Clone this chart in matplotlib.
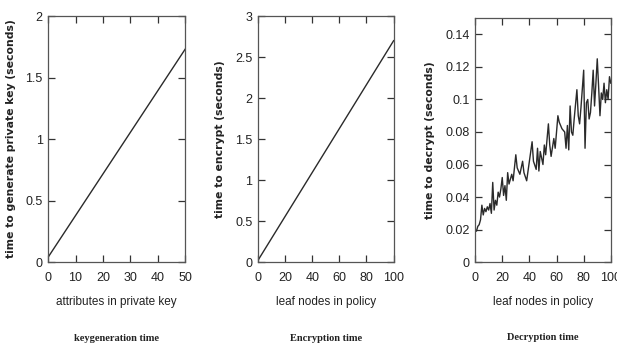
import numpy as np
import matplotlib
matplotlib.use("Agg")
import matplotlib.pyplot as plt

# keygeneration: attributes vs seconds
key_attrs = [0, 50]
key_time = [0.04, 1.73]

# encryption: leaf nodes vs seconds
enc_nodes = [0, 100]
enc_time = [0.02, 2.70]

# decryption (noisy)
dec_nodes = [0, 1, 2, 3, 4, 5, 6, 7, 8, 9, 10, 11, 12, 13, 14, 15, 16, 17, 18, 19,
             20, 21, 22, 23, 24, 25, 27, 28, 30, 31, 33, 35, 36, 38, 40, 42, 43, 45,
             46, 47, 48, 50, 51, 52, 54, 55, 56, 58, 59, 61, 62, 64, 66, 67, 68, 69,
             70, 71, 72, 73, 75, 76, 77, 78, 80, 81, 82, 83, 84, 85, 86, 87, 88, 89,
             90, 91, 92, 93, 94, 95, 96, 97, 98, 99, 100]
dec_time = [0.020, 0.019, 0.022, 0.023, 0.026, 0.035, 0.029, 0.033, 0.031, 0.034,
            0.032, 0.036, 0.030, 0.049, 0.032, 0.038, 0.035, 0.043, 0.040, 0.045,
            0.052, 0.041, 0.047, 0.038, 0.055, 0.048, 0.054, 0.050, 0.066, 0.058,
            0.054, 0.062, 0.055, 0.050, 0.062, 0.074, 0.062, 0.057, 0.070, 0.056,
            0.068, 0.060, 0.072, 0.066, 0.085, 0.072, 0.065, 0.076, 0.070, 0.090,
            0.086, 0.082, 0.080, 0.070, 0.084, 0.069, 0.096, 0.080, 0.078, 0.088,
            0.106, 0.090, 0.085, 0.095, 0.118, 0.070, 0.098, 0.100, 0.088, 0.092,
            0.104, 0.118, 0.096, 0.110, 0.125, 0.108, 0.090, 0.104, 0.100, 0.110,
            0.098, 0.106, 0.100, 0.114, 0.110]

narrow = ["Liberation Sans", "DejaVu Sans"]

fig = plt.figure(figsize=(6.17, 3.49), dpi=100)

panels = [
    dict(rect=[0.078, 0.249, 0.222, 0.705], x=key_attrs, y=key_time,
         xlim=(0, 50), xt=range(0, 51, 10), ylim=(0, 2), yt=[0, 0.5, 1, 1.5, 2],
         ytl=["0", "0.5", "1", "1.5", "2"],
         xlabel="attributes in private key",
         ylabel="time to generate private key (seconds)",
         caption="keygeneration time"),
    dict(rect=[0.418, 0.249, 0.220, 0.705], x=enc_nodes, y=enc_time,
         xlim=(0, 100), xt=range(0, 101, 20), ylim=(0, 3),
         yt=[0, 0.5, 1, 1.5, 2, 2.5, 3],
         ytl=["0", "0.5", "1", "1.5", "2", "2.5", "3"],
         xlabel="leaf nodes in policy",
         ylabel="time to encrypt (seconds)",
         caption="Encryption time"),
    dict(rect=[0.770, 0.249, 0.220, 0.699], x=dec_nodes, y=dec_time,
         xlim=(0, 100), xt=range(0, 101, 20), ylim=(0, 0.15),
         yt=[0, 0.02, 0.04, 0.06, 0.08, 0.1, 0.12, 0.14],
         ytl=["0", "0.02", "0.04", "0.06", "0.08", "0.1", "0.12", "0.14"],
         xlabel="leaf nodes in policy",
         ylabel="time to decrypt (seconds)",
         caption="Decryption time"),
]

for p in panels:
    ax = fig.add_axes(p["rect"])
    ax.plot(p["x"], p["y"], color="#2a2a2a", lw=1.0)
    ax.set_xlim(*p["xlim"])
    ax.set_ylim(*p["ylim"])
    ax.set_xticks(list(p["xt"]))
    ax.set_yticks(p["yt"])
    ax.set_yticklabels(p["ytl"])
    ax.tick_params(direction="in", top=True, right=True, length=5, width=0.9,
                   color="#333333", labelsize=9, labelcolor="#222222")
    ax.tick_params(axis="x", pad=7)
    ax.tick_params(axis="y", pad=4)
    for lab in ax.get_xticklabels() + ax.get_yticklabels():
        lab.set_family(narrow)
    for s in ax.spines.values():
        s.set_color("#555555")
        s.set_linewidth(0.9)
    ax.set_xlabel(p["xlabel"], family=narrow, fontsize=8.5, labelpad=9,
                  color="#222222")
    ax.set_ylabel(p["ylabel"], family="DejaVu Sans", fontweight="bold",
                  fontsize=7.8, labelpad=7, color="#222222")
    ax.text(0.5, -0.31, p["caption"], transform=ax.transAxes, ha="center",
            va="center", family=["Liberation Serif", "DejaVu Serif"],
            fontweight="bold", fontsize=7.5, color="#222222")

fig.savefig("out.png", dpi=100)
